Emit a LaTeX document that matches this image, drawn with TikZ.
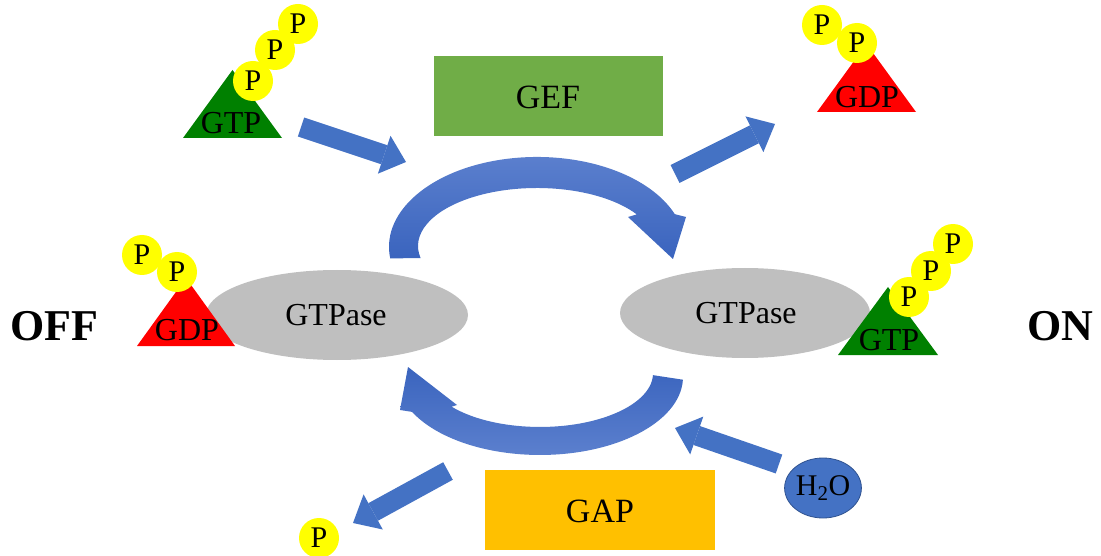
\documentclass[tikz,border=0pt]{standalone}
\usepackage{fontspec}
\setmainfont{Liberation Serif}
\usetikzlibrary{arrows.meta,shapes.geometric}
\definecolor{arrowblue}{RGB}{68,114,196}
\definecolor{arrowlight}{RGB}{92,128,206}
\definecolor{arrowdark}{RGB}{58,100,190}
\definecolor{bodygray}{RGB}{191,191,191}
\definecolor{gefgreen}{RGB}{112,173,71}
\definecolor{gapyellow}{RGB}{255,192,0}
\definecolor{gtpgreen}{RGB}{0,128,0}
\definecolor{gdpred}{RGB}{255,0,0}
\definecolor{phosyellow}{RGB}{255,255,0}
\definecolor{waterborder}{RGB}{47,82,143}
\begin{document}
\begin{tikzpicture}[x=1pt,y=-1pt,
  txt/.style={inner sep=0pt, font=\fontsize{32}{36}\selectfont},
  stateword/.style={inner sep=0pt, font=\fontsize{44}{48}\selectfont\bfseries},
  enzyme/.style={inner sep=0pt, font=\fontsize{34}{38}\selectfont},
  phos/.style={circle, fill=phosyellow, minimum size=40pt, inner sep=0pt,
               font=\fontsize{30}{33}\selectfont},
  blockarrow/.style={draw=arrowblue, line width=20pt,
    -{Triangle[width=40pt,length=23pt,line width=0pt]}},
  arcdown/.style={top color=arrowlight, bottom color=arrowdark, draw=none},
  arcup/.style={top color=arrowdark, bottom color=arrowlight, draw=none},
]
\useasboundingbox (0,0) rectangle (1101,556);

% enzymes
\fill[gefgreen] (434,56) rectangle (663,136);
\node[enzyme] (gef) at (548,97) {GEF};
\fill[gapyellow] (485,470) rectangle (715,550);
\node[enzyme] (gap) at (600,511) {GAP};

% the two GTPase bodies
\fill[bodygray] (337,315) ellipse [x radius=131, y radius=45];
\node[txt] (offbody) at (336,315) {GTPase};
\fill[bodygray] (745,313) ellipse [x radius=125, y radius=45];
\node[txt] (onbody) at (746,313) {GTPase};

% states
\node[stateword] (off) at (54,326) {OFF};
\node[stateword] (on) at (1060,326) {ON};

% nucleotides: triangles
\fill[gtpgreen] (183,138) -- (232.5,70) -- (282,138) -- cycle;
\node[txt] (gtpin) at (231,123) {GTP};
\fill[gdpred] (817,112) -- (866.5,44) -- (916,112) -- cycle;
\node[txt] (gdpout) at (867,97) {GDP};
\fill[gdpred] (137,346) -- (186,278) -- (235,346) -- cycle;
\node[txt] (gdpbound) at (187,330) {GDP};
\fill[gtpgreen] (838,355) -- (888,287) -- (938,355) -- cycle;
\node[txt] (gtpbound) at (889,340) {GTP};

% phosphates
\node[phos] (p1) at (253,81) {P};
\node[phos] (p2) at (275,50) {P};
\node[phos] (p3) at (298,24) {P};
\node[phos] (p4) at (822,25) {P};
\node[phos] (p5) at (857,43) {P};
\node[phos] (p6) at (142,255) {P};
\node[phos] (p7) at (177,272) {P};
\node[phos] (p8) at (909,297) {P};
\node[phos] (p9) at (931,271) {P};
\node[phos] (p10) at (953,244) {P};
\node[phos] (pfree) at (319,538) {P};

% water
\node[ellipse, fill=arrowblue, draw=waterborder, line width=0.8pt,
      minimum width=72pt, minimum height=60pt, inner sep=0pt,
      font=\fontsize{30}{34}\selectfont] (water) at (823,488) {H\textsubscript{2}O};

% straight arrow end points
\coordinate (gtpinS) at (301,127);
\coordinate (gtpinE) at (406,162);
\coordinate (gdpoutS) at (675,174);
\coordinate (gdpoutE) at (775,124);
\coordinate (waterS) at (779,464);
\coordinate (waterE) at (675,428);
\coordinate (pfreeS) at (448,471);
\coordinate (pfreeE) at (353,523);

% straight arrows
\draw[blockarrow] (gtpinS) -- (gtpinE);
\draw[blockarrow] (gdpoutS) -- (gdpoutE);
\draw[blockarrow] (waterS) -- (waterE);
\draw[blockarrow] (pfreeS) -- (pfreeE);

% activation arc (GEF): elliptical band over the top, head down at the ON body
\path[arcdown] (390.2,258.4)
  arc[start angle=172.7, end angle=338.6, x radius=148, y radius=90]
  -- (686,217) -- (673,259) -- (628,217) -- (636.8,214.4)
  arc[start angle=327, end angle=168, x radius=119, y radius=58]
  -- cycle;

% hydrolysis arc (GAP): elliptical band under the bottom, head up at the OFF body
\path[arcup] (682.9,379.7)
  arc[start angle=2, end angle=153.4, x radius=143, y radius=78]
  -- (400,410) -- (408,367) -- (457,405) -- (451.6,406.7)
  arc[start angle=141.5, end angle=2, x radius=113, y radius=53.7]
  -- cycle;
\end{tikzpicture}
\end{document}
